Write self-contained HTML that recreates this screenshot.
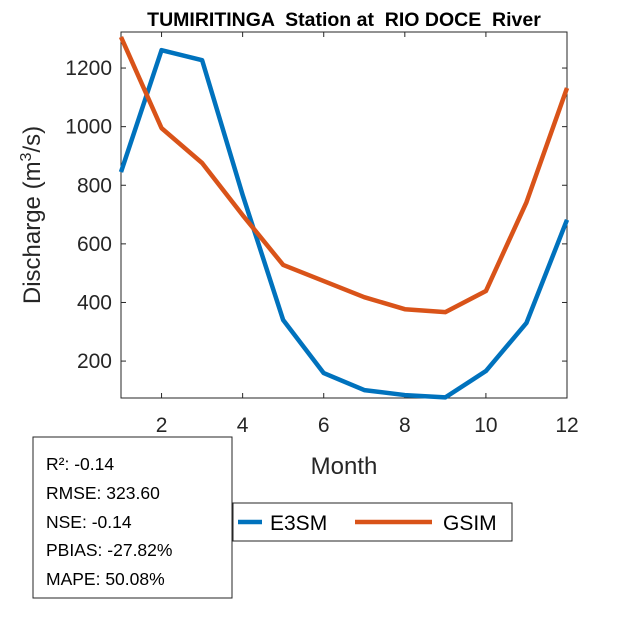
<!DOCTYPE html>
<html><head><meta charset="utf-8"><style>
body{margin:0;background:#fff;}
svg text{font-family:"Liberation Sans",Arial,sans-serif;}
</style></head><body>
<svg width="625" height="625" viewBox="0 0 625 625">
<rect width="625" height="625" fill="#fff"/>
<g id="plot"></g>
</svg>
<script>
const months=[1,2,3,4,5,6,7,8,9,10,11,12];
const e3sm=[845,1261,1227,767,340,159,101,84,76,166,330,682];
const gsim=[1306,995,876,698,528,473,418,377,367,439,742,1132];
const xTicks=[2,4,6,8,10,12];
const yTicks=[200,400,600,800,1000,1200];
const L=121,R=567,T=32,B=398;
const yMin=74,yMax=1323;
const X=v=>L+(v-1)/11*(R-L);
const Y=v=>B-(v-yMin)/(yMax-yMin)*(B-T);
const NS="http://www.w3.org/2000/svg";
const g=document.getElementById('plot');
function mk(t,a,parent){const e=document.createElementNS(NS,t);for(const k in a)e.setAttribute(k,a[k]);(parent||g).appendChild(e);return e;}
let bg=mk('rect',{x:L,y:T,width:R-L,height:B-T,fill:'#fff',stroke:'#262626','stroke-width':1});


xTicks.forEach(v=>{const x=X(v);
 mk('line',{x1:x,y1:B,x2:x,y2:B-5,stroke:'#262626'});mk('line',{x1:x,y1:T,x2:x,y2:T+5,stroke:'#262626'});
 const t=mk('text',{x:x,y:B+34,'font-size':21,'text-anchor':'middle',fill:'#262626'});t.textContent=v;
 
 });
yTicks.forEach(v=>{const y=Y(v);
 mk('line',{x1:L,y1:y,x2:L+5,y2:y,stroke:'#262626'});mk('line',{x1:R,y1:y,x2:R-5,y2:y,stroke:'#262626'});
 const t=mk('text',{x:L-9,y:y+7,'font-size':21,'text-anchor':'end',fill:'#262626'});t.textContent=v;
 
 });
function line(d,c,n){const p=mk('polyline',{points:months.map((m,i)=>X(m)+','+Y(d[i])).join(' '),fill:'none',stroke:c,'stroke-width':4.5,'stroke-linejoin':'round'});
 
 }
line(e3sm,'#0072BD','e3sm-line');
line(gsim,'#D95319','gsim-line');
</script>
<svg width="625" height="625" style="position:absolute;left:0;top:0">
<text x="344" y="26" font-size="19.5" font-weight="bold" text-anchor="middle" fill="#000" xml:space="preserve">TUMIRITINGA  Station at  RIO DOCE  River</text>
<text x="344" y="474" font-size="24" text-anchor="middle" fill="#262626">Month</text>
<text transform="translate(40,215) rotate(-90)" font-size="24" text-anchor="middle" fill="#262626">Discharge (m<tspan dy="-9" font-size="16">3</tspan><tspan dy="9">/s)</tspan></text>
<g>
<rect x="233" y="503" width="279" height="38" fill="#fff" stroke="#262626"/>
<line x1="238" y1="522" x2="262" y2="522" stroke="#0072BD" stroke-width="4.5"/>
<text x="270" y="530" font-size="21" fill="#000">E3SM</text>
<line x1="355" y1="522" x2="432" y2="522" stroke="#D95319" stroke-width="4.5"/>
<text x="443" y="530" font-size="21" fill="#000">GSIM</text>
</g>
<g>
<rect x="33" y="437" width="199" height="161" fill="#fff" stroke="#262626"/>
<text x="46" y="470" font-size="17.5" fill="#000">R²: -0.14</text>
<text x="46" y="499" font-size="17.5" fill="#000">RMSE: 323.60</text>
<text x="46" y="528" font-size="17.5" fill="#000">NSE: -0.14</text>
<text x="46" y="556" font-size="17.5" fill="#000">PBIAS: -27.82%</text>
<text x="46" y="585" font-size="17.5" fill="#000">MAPE: 50.08%</text>
</g>
</svg>
</body></html>
